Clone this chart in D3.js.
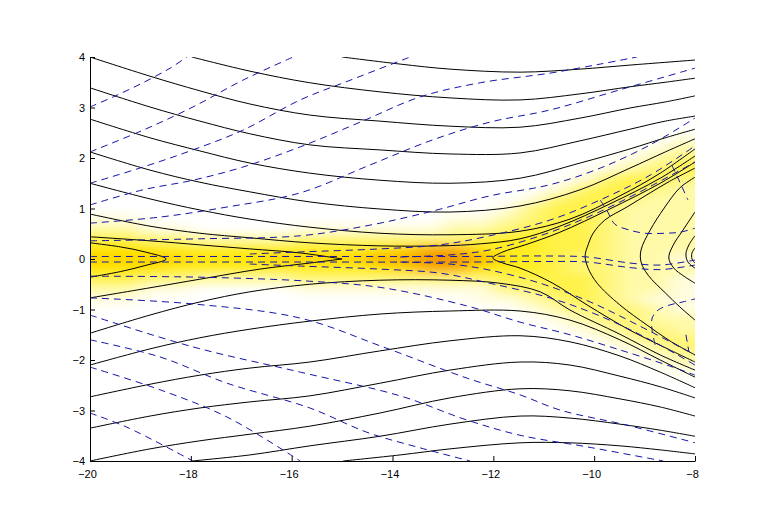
<!DOCTYPE html>
<html><head><meta charset="utf-8">
<script src="https://cdn.jsdelivr.net/npm/d3@7"></script>
<style>body{margin:0;background:#fff}svg{display:block}</style>
</head><body>
<svg id="c" width="768" height="525"></svg>
<script>
// ---------- tick values ----------
const xTicks = [-20,-18,-16,-14,-12,-10,-8];
const yTicks = [-4,-3,-2,-1,0,1,2,3,4];

// ---------- heat field (intensity 0..9) ----------
const heatColX = [-19.75,-19.25,-18.75,-18.25,-17.75,-17.25,-16.75,-16.25,-15.75,-15.25,-14.75,-14.25,
                  -13.75,-13.25,-12.75,-12.25,-11.75,-11.25,-10.75,-10.25,-9.75,-9.25,-8.75,-8.25];
const heatRowY = [2.6,2.4,2.2,2.0,1.8,1.6,1.4,1.2,1.0,0.8,0.6,0.4,0.2,0,-0.2,-0.4,-0.6,-0.8,-1.0,-1.2,-1.4,-1.6,-1.8,-2.0,-2.2,-2.4,-2.6];
const heatRows = [
 "000000000000000000000000",
 "000000000000000000000001",
 "000000000000000000000012",
 "000000000000000000000123",
 "000000000000000000001234",
 "000000000000000000013443",
 "000000000000000000134432",
 "000000000000000001344322",
 "000000000000000013443222",
 "110000000000001123443222",
 "221100001111112234443222",
 "443322223333333455443222",
 "666555555556788655443222",
 "777766677778899865433221",
 "666555555556788655433222",
 "443322223333333344443221",
 "221100001111111133443221",
 "110000000000000112343211",
 "000000000000000001233321",
 "000000000000000000123322",
 "000000000000000000012332",
 "000000000000000000001233",
 "000000000000000000000123",
 "000000000000000000000012",
 "000000000000000000000001",
 "000000000000000000000000",
 "000000000000000000000000"
];

// ---------- solid (black) level curves ----------
const blackA = [[-15.00,4.00],[-13.85,3.86],[-12.86,3.76],[-11.47,3.70],[-10.28,3.76],[-9.29,3.84],[-8.00,3.94]];
const blackB = [[-17.98,4.00],[-16.83,3.72],[-15.64,3.49],[-14.25,3.31],[-12.86,3.19],[-11.47,3.15],[-10.28,3.27],[-9.29,3.41],[-8.59,3.50],[-8.00,3.58]];
const blackC = [[-20,4.00],[-18.81,3.62],[-17.82,3.33],[-16.83,3.07],[-15.64,2.85],[-14.25,2.73],[-12.86,2.63],[-11.47,2.61],[-10.28,2.79],[-9.29,2.99],[-8.59,3.11],[-8.00,3.23]];
const blackD = [[-20,3.39],[-18.81,3.01],[-17.82,2.73],[-16.83,2.48],[-15.64,2.26],[-14.25,2.16],[-12.86,2.08],[-11.47,2.10],[-10.28,2.34],[-9.29,2.57],[-8.59,2.73],[-8.00,2.83]];
const blackE = [[-20,2.77],[-18.81,2.40],[-17.82,2.14],[-16.83,1.90],[-15.64,1.70],[-14.25,1.56],[-12.86,1.50],[-11.47,1.60],[-10.28,1.90],[-9.29,2.18],[-8.59,2.40],[-8.00,2.57]];
const blackF = [[-20,2.12],[-18.81,1.76],[-17.82,1.52],[-16.83,1.33],[-15.64,1.13],[-14.25,0.99],[-12.86,0.93],[-11.47,1.05],[-10.28,1.37],[-9.29,1.80],[-8.59,2.12],[-8.00,2.38]];
const blackG = [[-20,1.50],[-18.81,1.19],[-17.82,0.97],[-16.83,0.79],[-15.64,0.63],[-14.25,0.51],[-12.86,0.48],[-11.47,0.55],[-10.48,0.79],[-9.49,1.25],[-8.69,1.70],[-8.00,2.18]];
const blackH = [[-20,0.89],[-18.81,0.65],[-17.82,0.51],[-16.83,0.42],[-15.64,0.32],[-14.25,0.26],[-13.06,0.26],[-12.26,0.30],[-11.47,0.40],[-10.68,0.65],[-9.69,1.09],[-8.69,1.60],[-8.00,2.04]];
const blackI = [[-20,0.44],[-18.81,0.36],[-17.82,0.28],[-16.83,0.20],[-15.83,0.12],[-15.0,0.0]];
const blackCusp = [[-20,0.32],[-19.40,0.24],[-18.91,0.14],[-18.49,0.0],[-18.91,-0.13],[-19.40,-0.25],[-20,-0.36]];
const blackIp = [[-20,-0.77],[-18.81,-0.57],[-17.82,-0.40],[-16.63,-0.20],[-15.64,-0.08],[-15.0,0.0]];
const blackVee = [[-8.00,1.92],[-8.69,1.50],[-9.69,0.99],[-10.68,0.53],[-11.37,0.28],[-11.81,0.14],[-12.01,0.02],[-11.81,-0.08],[-11.47,-0.18],[-10.82,-0.48],[-10.14,-0.91],[-9.29,-1.41],[-8.50,-1.80],[-8.00,-2.04]];
const blackP1 = [[-8.00,1.80],[-8.50,1.54],[-8.89,1.31],[-9.35,1.03],[-9.79,0.77],[-10.02,0.51],[-10.12,0.28],[-10.18,0.06],[-10.12,-0.18],[-9.94,-0.48],[-9.49,-0.91],[-8.95,-1.31],[-8.50,-1.62],[-8.00,-1.90]];
const blackP2 = [[-8.00,1.62],[-8.30,1.41],[-8.61,1.01],[-8.89,0.57],[-9.07,0.18],[-9.07,-0.06],[-8.93,-0.32],[-8.59,-0.67],[-8.30,-0.95],[-8.00,-1.21]];
const blackP3 = [[-8.00,0.93],[-8.24,0.57],[-8.44,0.26],[-8.52,0.02],[-8.42,-0.18],[-8.22,-0.34],[-8.00,-0.48]];
const blackP4 = [[-8.00,0.46],[-8.12,0.28],[-8.18,0.10],[-8.14,-0.06],[-8.00,-0.18]];
const blackP5 = [[-8.00,0.22],[-8.06,0.12],[-8.06,0.00],[-8.00,-0.08]];
const blackHp = [[-20,-1.47],[-18.81,-1.11],[-17.82,-0.85],[-16.83,-0.65],[-15.64,-0.50],[-14.25,-0.42],[-12.86,-0.42],[-11.87,-0.48],[-11.07,-0.65],[-10.48,-1.01],[-9.49,-1.49],[-8.69,-1.90],[-8.00,-2.20]];
const blackGp = [[-20,-2.10],[-18.81,-1.78],[-17.82,-1.56],[-16.83,-1.39],[-15.64,-1.23],[-14.25,-1.09],[-12.86,-1.03],[-11.47,-1.03],[-10.48,-1.21],[-9.49,-1.60],[-8.69,-2.00],[-8.00,-2.34]];
const blackFp = [[-20,-2.73],[-18.81,-2.48],[-17.82,-2.30],[-16.83,-2.16],[-15.64,-2.04],[-14.25,-1.82],[-12.86,-1.62],[-11.47,-1.52],[-10.48,-1.64],[-9.49,-1.92],[-8.69,-2.24],[-8.00,-2.55]];
const blackEp = [[-20,-3.35],[-18.81,-3.11],[-17.82,-2.95],[-16.83,-2.83],[-15.64,-2.71],[-14.25,-2.46],[-12.86,-2.20],[-11.47,-2.04],[-10.48,-2.10],[-9.49,-2.32],[-8.69,-2.53],[-8.00,-2.75]];
const blackDp = [[-20,-4.00],[-18.81,-3.76],[-17.82,-3.60],[-16.83,-3.47],[-15.64,-3.31],[-14.25,-3.05],[-12.86,-2.75],[-11.47,-2.57],[-10.48,-2.61],[-9.49,-2.77],[-8.69,-2.93],[-8.00,-3.11]];
const blackCp = [[-17.98,-4.00],[-16.83,-3.88],[-15.64,-3.70],[-14.25,-3.51],[-12.86,-3.27],[-11.47,-3.11],[-10.48,-3.15],[-9.49,-3.27],[-8.69,-3.39],[-8.00,-3.51]];
const blackBp = [[-14.98,-4.00],[-13.85,-3.88],[-12.86,-3.76],[-11.47,-3.64],[-10.48,-3.64],[-9.49,-3.70],[-8.69,-3.78],[-8.00,-3.86]];

// ---------- dashed (blue) curves ----------
const blueU1 = [[-20,3.01],[-19.54,3.21],[-18.95,3.49],[-18.41,3.78],[-18.08,4.00]];
const blueU2 = [[-20,2.12],[-18.95,2.55],[-17.96,3.01],[-16.97,3.54],[-15.97,4.00]];
const blueU3 = [[-20,1.50],[-18.95,1.82],[-17.96,2.16],[-16.97,2.55],[-15.83,3.15],[-14.84,3.54],[-13.65,4.00]];
const blueU4 = [[-20,1.07],[-18.95,1.37],[-17.96,1.56],[-16.97,1.82],[-15.83,2.22],[-14.64,2.71],[-13.45,3.21],[-12.26,3.49],[-10.88,3.68],[-9.88,3.86],[-9.15,4.00]];
const blueU5 = [[-20,0.71],[-18.61,0.83],[-17.28,1.03],[-15.83,1.31],[-14.45,1.86],[-13.20,2.36],[-12.07,2.71],[-10.88,2.95],[-9.49,3.35],[-8.00,3.78]];
const blueU6 = [[-20,0.36],[-17.82,0.40],[-15.83,0.46],[-14.45,0.67],[-13.20,0.95],[-12.07,1.25],[-10.88,1.47],[-9.88,1.80],[-8.89,2.26],[-8.00,2.79]];
const blueU7 = [[-16.83,0.10],[-15.83,0.14],[-14.25,0.20],[-13.06,0.28],[-12.07,0.46],[-10.88,0.77],[-9.88,1.17],[-8.89,1.66],[-8.00,2.24]];
const blueU8 = [[-13.85,0.04],[-12.86,0.08],[-12.07,0.18],[-11.07,0.46],[-10.08,0.85],[-9.09,1.33],[-8.00,1.92]];
const blueL1 = [[-20,-0.34],[-17.82,-0.36],[-15.64,-0.44],[-14.19,-0.57],[-12.52,-0.93],[-11.47,-1.25],[-10.48,-1.50],[-9.49,-1.80],[-8.50,-2.12],[-8.00,-2.30]];
const blueL2 = [[-20,-0.77],[-17.96,-0.89],[-15.83,-1.17],[-14.19,-1.74],[-12.52,-2.36],[-11.47,-2.69],[-10.68,-2.99],[-9.35,-3.29],[-8.00,-3.64]];
const blueL3 = [[-20,-1.11],[-17.96,-1.74],[-15.83,-2.24],[-13.85,-2.71],[-12.52,-3.19],[-11.47,-3.49],[-10.14,-3.72],[-8.63,-4.00]];
const blueL4 = [[-20,-1.60],[-18.61,-1.94],[-17.28,-2.46],[-15.64,-2.95],[-14.51,-3.43],[-13.45,-3.74],[-12.46,-4.00]];
const blueL5 = [[-20,-2.14],[-18.61,-2.59],[-17.28,-3.13],[-15.83,-4.00]];
const blueL6 = [[-20,-3.05],[-19.27,-3.33],[-17.96,-4.00]];
const blueL7 = [[-16.83,-0.10],[-15.83,-0.14],[-14.25,-0.20],[-13.06,-0.28],[-12.07,-0.48],[-10.88,-0.77],[-9.88,-1.13],[-8.89,-1.60],[-8.00,-2.10]];
const blueL8 = [[-13.85,-0.06],[-12.86,-0.10],[-12.07,-0.22],[-11.07,-0.48],[-10.08,-0.85],[-9.09,-1.33],[-8.00,-1.90]];
const blueB1 = [[-20,0.05],[-15.83,0.05],[-12.46,0.05],[-11.0,0.06],[-10.14,0.04],[-9.29,-0.08],[-8.69,-0.12],[-8.00,-0.02]];
const blueB2 = [[-20,-0.06],[-15.83,-0.06],[-12.46,-0.06],[-11.0,-0.05],[-10.14,-0.06],[-9.29,-0.17],[-8.69,-0.21],[-8.00,-0.12]];
const blueR1 = [[-9.88,1.17],[-9.73,0.93],[-9.59,0.69],[-9.29,0.57],[-8.99,0.51],[-8.59,0.51],[-8.30,0.53],[-8.00,0.61]];
const blueR2 = [[-8.79,-1.70],[-8.85,-1.41],[-8.85,-1.17],[-8.73,-1.01],[-8.50,-0.91],[-8.24,-0.85],[-8.00,-0.79]];
const blueR3 = [[-8.46,1.86],[-8.30,1.52],[-8.14,1.17]];
const blueR4 = [[-8.18,-1.50],[-8.12,-1.84]];

const blackCurves = [blackA,blackB,blackC,blackD,blackE,blackF,blackG,blackH,blackI,blackCusp,blackIp,
  blackVee,blackP1,blackP2,blackP3,blackP4,blackP5,blackHp,blackGp,blackFp,blackEp,blackDp,blackCp,blackBp];
const blueCurves = [blueU1,blueU2,blueU3,blueU4,blueU5,blueU6,blueU7,blueU8,
  blueL1,blueL2,blueL3,blueL4,blueL5,blueL6,blueL7,blueL8,blueB1,blueB2,blueR1,blueR2,blueR3,blueR4];

// ---------- drawing ----------
const svg = d3.select("#c");
const x = d3.scaleLinear().domain([-20,-8]).range([90,695]);
const y = d3.scaleLinear().domain([-4,4]).range([461,57]);
const heatColor = d3.scaleLinear()
  .domain([0,1,2,3,4,5,6,7,8,9])
  .range(["#ffffff","#fffde0","#fffaa8","#fff678","#fff24a","#ffee22","#ffe600","#ffd600","#f9b400","#f09000"])
  .interpolate(d3.interpolateRgb);

const defs = svg.append("defs");
defs.append("clipPath").attr("id","clip").append("rect")
  .attr("x",x(-20)).attr("y",y(4)).attr("width",x(-8)-x(-20)).attr("height",y(-4)-y(4));
const f = defs.append("filter").attr("id","blur").attr("filterUnits","userSpaceOnUse")
  .attr("x",0).attr("y",0).attr("width",768).attr("height",525);
f.append("feGaussianBlur").attr("stdDeviation","10 4.5");

const plot = svg.append("g").attr("clip-path","url(#clip)");

const cells = [];
heatRows.forEach((row,j)=>{
  for(let i=0;i<row.length;i++){
    const v = +row[i];
    if(v>0) cells.push({i, j, v});
  }
});
const nCols = heatColX.length;
const halfW = (heatColX[1]-heatColX[0])/2, halfH = (heatRowY[0]-heatRowY[1])/2;
plot.append("g").attr("filter","url(#blur)")
  .selectAll("rect").data(cells).join("rect")
  .attr("x", d => x(heatColX[d.i]-halfW) - (d.i===0 ? 40 : 0))
  .attr("y", d => y(heatRowY[d.j]+halfH))
  .attr("width", d => x(heatColX[d.i]+halfW) - x(heatColX[d.i]-halfW) + 0.6 + (d.i===0 ? 40 : 0) + (d.i===nCols-1 ? 40 : 0))
  .attr("height", d => y(heatRowY[d.j]-halfH) - y(heatRowY[d.j]+halfH) + 0.6)
  .attr("fill", d => heatColor(d.v));

const line = d3.line().x(d=>x(d[0])).y(d=>y(d[1])).curve(d3.curveCatmullRom.alpha(0.5));

plot.append("g").selectAll("path").data(blackCurves).join("path")
  .attr("d", line).attr("fill","none").attr("stroke","#000").attr("stroke-width",1);

plot.append("g").selectAll("path").data(blueCurves).join("path")
  .attr("d", line).attr("fill","none").attr("stroke","#1414a8").attr("stroke-width",1)
  .attr("stroke-dasharray","7,5");

// ---------- axes ----------
const fmt = d => d < 0 ? "\u2212" + Math.abs(d) : String(d);
const gx = svg.append("g").attr("transform",`translate(0,${y(-4)})`)
  .call(d3.axisBottom(x).tickValues(xTicks).tickFormat(fmt).tickSizeInner(-5).tickSizeOuter(0).tickPadding(9));
const gy = svg.append("g").attr("transform",`translate(${x(-20)},0)`)
  .call(d3.axisLeft(y).tickValues(yTicks).tickFormat(fmt).tickSizeInner(-5).tickSizeOuter(0).tickPadding(5));
[gx,gy].forEach(g=>{
  g.selectAll("path,line").attr("stroke","#000");
  g.selectAll("text").attr("fill","#000")
    .style("font-family","'Liberation Sans', Arial, Helvetica, sans-serif").style("font-size","11px");
});
gx.selectAll("text").attr("dx","-3");
</script>
</body></html>
